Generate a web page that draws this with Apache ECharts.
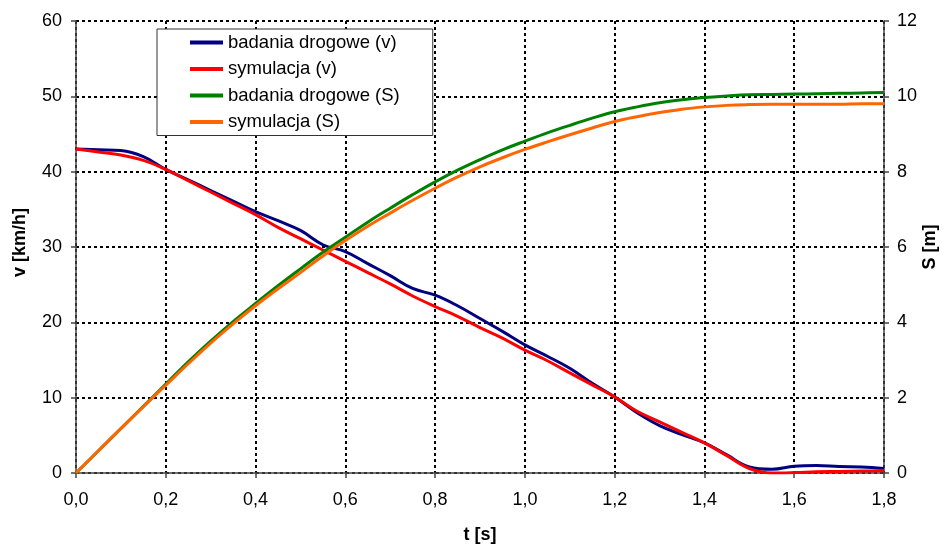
<!DOCTYPE html>
<html>
<head>
<meta charset="utf-8">
<title>Hamowanie – prędkość i droga</title>
<script src="https://cdn.jsdelivr.net/npm/echarts@6/dist/echarts.min.js"></script>
<style>
  html, body { margin: 0; padding: 0; background: #fff; overflow: hidden; }
  #chart { width: 946px; height: 545px; }
</style>
</head>
<body>
<div id="chart"></div>
<script>
// Czas [s]
var time = [0, 0.05, 0.1, 0.15, 0.2, 0.25, 0.3, 0.35, 0.4, 0.45, 0.5, 0.55, 0.6, 0.65, 0.7, 0.75,
  0.8, 0.85, 0.9, 0.95, 1.0, 1.05, 1.1, 1.15, 1.2, 1.25, 1.3, 1.35, 1.4, 1.45, 1.5, 1.55,
  1.6, 1.65, 1.7, 1.75, 1.8];

// Prędkość [km/h] – badania drogowe
var vRoad = [43.0, 42.9, 42.8, 42.0, 40.3, 38.9, 37.5, 36.1, 34.7, 33.5, 32.2, 30.3, 29.4, 27.8,
  26.2, 24.5, 23.6, 22.2, 20.5, 18.8, 17.0, 15.5, 13.9, 11.9, 10.1, 8.0, 6.3, 5.1, 4.0, 2.4,
  0.8, 0.5, 0.9, 1.0, 0.85, 0.8, 0.6];

// Prędkość [km/h] – symulacja
var vSim = [43.0, 42.6, 42.2, 41.5, 40.3, 38.8, 37.3, 35.8, 34.3, 32.6, 31.1, 29.6, 28.1, 26.6,
  25.1, 23.5, 22.1, 20.8, 19.3, 17.9, 16.3, 14.9, 13.3, 11.7, 10.1, 8.2, 6.8, 5.4, 4.0, 2.3,
  0.6, 0.0, 0.05, 0.15, 0.2, 0.25, 0.3];

// Droga [m] – badania drogowe
var sRoad = [0, 0.59, 1.18, 1.77, 2.36, 2.95, 3.5, 4.02, 4.5, 4.97, 5.42, 5.86, 6.26, 6.66,
  7.03, 7.39, 7.73, 8.04, 8.32, 8.58, 8.81, 9.03, 9.23, 9.42, 9.59, 9.72, 9.83, 9.91, 9.97,
  10.01, 10.04, 10.05, 10.06, 10.07, 10.08, 10.09, 10.1];

// Droga [m] – symulacja
var sSim = [0, 0.59, 1.18, 1.76, 2.33, 2.9, 3.45, 3.96, 4.44, 4.89, 5.32, 5.76, 6.17, 6.55,
  6.9, 7.24, 7.56, 7.86, 8.13, 8.37, 8.59, 8.79, 8.98, 9.16, 9.33, 9.46, 9.57, 9.66, 9.72,
  9.76, 9.78, 9.79, 9.79, 9.79, 9.79, 9.8, 9.8];

var seriesNames = ['badania drogowe (v)', 'symulacja (v)', 'badania drogowe (S)', 'symulacja (S)'];
var seriesColors = ['#000080', '#ff0000', '#008000', '#ff6600'];

// Opisy osi
var xTitle = 't [s]';
var yLeftTitle = 'v [km/h]';
var yRightTitle = 'S [m]';

function pairs(values) {
  return time.map(function (t, i) { return [t, values[i]]; });
}

var font = 'Liberation Sans, Arial, sans-serif';
var axisColor = '#444';
var gridLine = { show: true, lineStyle: { color: '#000', width: 2, type: [3, 3] } };

var chart = echarts.init(document.getElementById('chart'));

function lineSeries(idx, values, yIndex) {
  return {
    name: seriesNames[idx],
    type: 'line',
    yAxisIndex: yIndex,
    data: pairs(values),
    smooth: 0.4,
    symbol: 'none',
    lineStyle: { color: seriesColors[idx], width: 3 },
    itemStyle: { color: seriesColors[idx] },
    z: 3 + idx,
    animation: false
  };
}

chart.setOption({
  backgroundColor: '#fff',
  animation: false,
  textStyle: { fontFamily: font },
  // fixed plot rectangle; axis names sit outside it
  grid: { left: 76, right: 62, top: 21, bottom: 72, containLabel: false, outerBoundsMode: 'none' },
  legend: {
    orient: 'vertical',
    left: 157,
    top: 29,
    padding: [4, 33, 4, 33],
    backgroundColor: '#fff',
    borderColor: '#333',
    borderWidth: 1,
    borderRadius: 0,
    icon: 'rect',
    itemWidth: 33,
    itemHeight: 4,
    itemGap: 7.5,
    textStyle: { fontFamily: font, fontSize: 18.5, color: '#000', lineHeight: 18 },
    data: seriesNames
  },
  // right-hand axis title, placed next to the S tick labels
  graphic: [
    {
      type: 'text',
      x: 930,
      y: 247,
      rotation: Math.PI / 2,
      style: {
        text: yRightTitle,
        fontFamily: font,
        fontSize: 18,
        fontWeight: 'bold',
        fill: '#000',
        align: 'center',
        verticalAlign: 'middle'
      }
    }
  ],
  xAxis: {
    type: 'value',
    min: 0,
    max: 1.8,
    interval: 0.2,
    name: xTitle,
    nameLocation: 'middle',
    nameGap: 53,
    nameTextStyle: { fontFamily: font, fontSize: 18, fontWeight: 'bold', color: '#000' },
    axisLine: { show: true, lineStyle: { color: axisColor, width: 1.5 } },
    axisTick: { show: true, inside: false, length: 5, lineStyle: { color: axisColor, width: 1.5 } },
    axisLabel: {
      margin: 18,
      fontFamily: font, fontSize: 18, color: '#000',
      formatter: function (v) { return v.toFixed(1).replace('.', ','); }
    },
    splitLine: gridLine
  },
  yAxis: [
    {
      type: 'value',
      min: 0,
      max: 60,
      interval: 10,
      position: 'left',
      name: yLeftTitle,
      nameLocation: 'middle',
      nameGap: 47,
      nameRotate: 90,
      nameTextStyle: { fontFamily: font, fontSize: 18, fontWeight: 'bold', color: '#000', padding: [0, 0, 0, 9] },
      axisLine: { show: true, lineStyle: { color: axisColor, width: 1.5 } },
      axisTick: { show: true, inside: false, length: 5, lineStyle: { color: axisColor, width: 1.5 } },
      axisLabel: { margin: 14, fontFamily: font, fontSize: 18, color: '#000' },
      splitLine: gridLine
    },
    {
      type: 'value',
      min: 0,
      max: 12,
      interval: 2,
      position: 'right',
      axisLine: { show: true, lineStyle: { color: axisColor, width: 1.5 } },
      axisTick: { show: true, inside: false, length: 5, lineStyle: { color: axisColor, width: 1.5 } },
      axisLabel: { margin: 13, fontFamily: font, fontSize: 18, color: '#000' },
      splitLine: { show: false }
    }
  ],
  series: [
    lineSeries(0, vRoad, 0),
    lineSeries(1, vSim, 0),
    lineSeries(2, sRoad, 1),
    lineSeries(3, sSim, 1)
  ]
});
</script>
</body>
</html>
